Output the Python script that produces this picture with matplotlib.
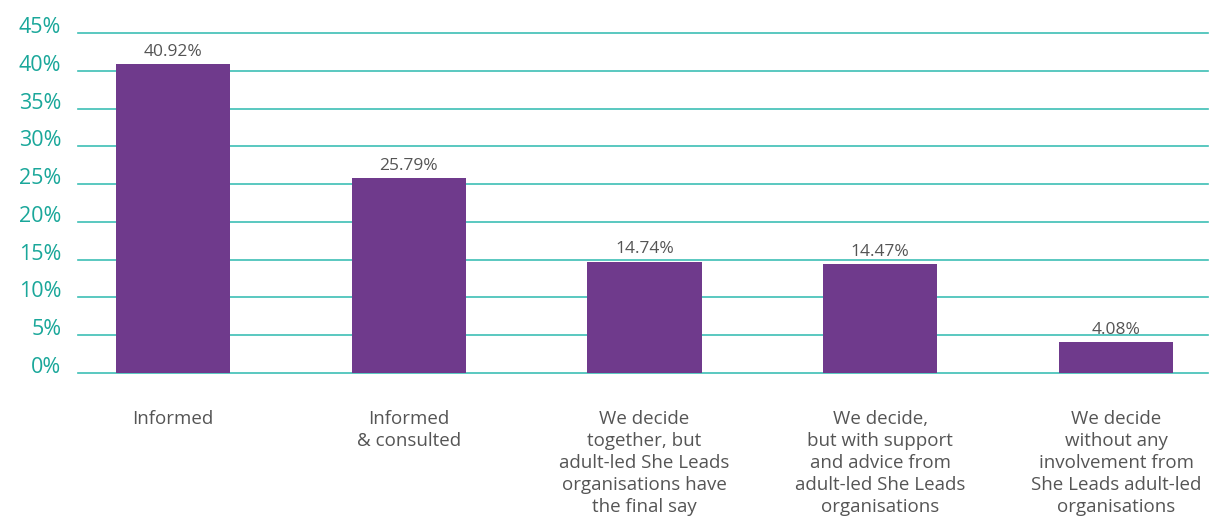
import matplotlib
matplotlib.use("Agg")
import matplotlib.pyplot as plt
from matplotlib.ticker import FuncFormatter

categories = [
    "Informed",
    "Informed\n& consulted",
    "We decide\ntogether, but\nadult-led She Leads\norganisations have\nthe final say",
    "We decide,\nbut with support\nand advice from\nadult-led She Leads\norganisations",
    "We decide\nwithout any\ninvolvement from\nShe Leads adult-led\norganisations",
]
values = [40.92, 25.79, 14.74, 14.47, 4.08]
value_labels = ["40.92%", "25.79%", "14.74%", "14.47%", "4.08%"]
yticks = [0, 5, 10, 15, 20, 25, 30, 35, 40, 45]

plt.rcParams['font.family'] = ['Open Sans', 'DejaVu Sans']

fig = plt.figure(figsize=(12.10, 5.17), dpi=100)
ax = fig.add_axes([78/1210, 1 - 373/517, (1208-78)/1210, (373-33)/517])

x = list(range(len(categories)))
bars = ax.bar(x, values, width=0.484, color="#6f3a8c", zorder=3)
for xi, v, lab in zip(x, values, value_labels):
    ax.annotate(lab, (xi, v), xytext=(0, 3), textcoords="offset points",
                ha="center", va="bottom", fontsize=12.5, color="#555555")

ax.set_xlim(-0.403, 4.39)
ax.set_ylim(0, 45)
ax.set_yticks(yticks)
ax.yaxis.set_major_formatter(FuncFormatter(lambda v, p: f"{int(v)}%"))
ax.grid(axis="y", color="#3dbfb5", linewidth=1.2, zorder=0)
for gl in ax.get_ygridlines():
    gl.set_clip_on(False)
for s in ax.spines.values():
    s.set_visible(False)
ax.tick_params(axis="y", length=0, pad=12, labelsize=15.5, labelcolor="#1aa79a")
for lab in ax.get_yticklabels():
    lab.set_va("baseline")
ax.tick_params(axis="x", length=0, pad=27)
ax.set_xticks(x)
ax.set_xticklabels(categories, fontsize=13.5, color="#555555", linespacing=1.27, va="top")

fig.savefig("out.png", dpi=100)
